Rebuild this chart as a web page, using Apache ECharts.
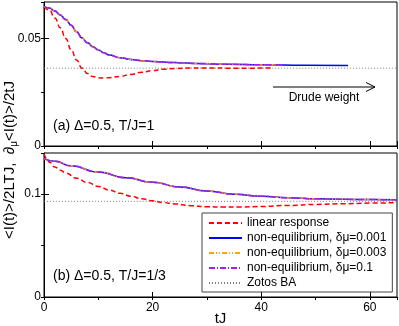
<!DOCTYPE html>
<html>
<head>
<meta charset="utf-8">
<script src="https://cdn.jsdelivr.net/npm/echarts@6/dist/echarts.min.js"></script>
<style>
html, body { margin: 0; padding: 0; background: #fff; }
#chart { width: 399px; height: 326px; }
</style>
</head>
<body>
<div id="chart"></div>
<script>
// panel (a): Delta=0.5, T/J=1
const tA_lin = [0, 1, 2, 3, 4, 5, 6, 7, 8, 9, 10, 11, 12, 14, 16, 18, 20, 22, 24, 27, 30, 35, 42];
const yA_lin = [0.0648, 0.0632, 0.0595, 0.0550, 0.0500, 0.0448, 0.0400, 0.0362, 0.0337, 0.0323, 0.0317, 0.0316,
                0.0318, 0.0324, 0.0333, 0.0343, 0.0351, 0.0357, 0.0361, 0.0363, 0.0363, 0.0362, 0.0363];
const tA_neq = [0, 1, 2, 3, 4, 5, 6, 7, 8, 9, 10, 11, 12, 14, 16, 18, 20, 24, 28, 34, 40, 48, 56];
const yA_001 = [0.0648, 0.0642, 0.0628, 0.0610, 0.0588, 0.0562, 0.0531, 0.0503, 0.0480, 0.0462, 0.0447, 0.0434,
                0.0423, 0.0411, 0.0403, 0.0397, 0.0393, 0.0388, 0.0384, 0.0380, 0.0378, 0.0376, 0.0375];
const tA_short = [0, 1, 2, 3, 4, 5, 6, 7, 8, 9, 10, 11, 12, 14, 16, 18, 20, 24, 28, 34, 40, 44];
const yA_003 = [0.0648, 0.0642, 0.0628, 0.0610, 0.0588, 0.0562, 0.0531, 0.0503, 0.0480, 0.0462, 0.0447, 0.0434,
                0.0423, 0.0411, 0.0403, 0.0397, 0.0393, 0.0388, 0.0384, 0.0380, 0.0378, 0.0377];
const yA_01 = [0.0648, 0.0642, 0.0628, 0.0610, 0.0588, 0.0562, 0.0531, 0.0503, 0.0480, 0.0462, 0.0447, 0.0434,
               0.0423, 0.0411, 0.0403, 0.0397, 0.0393, 0.0388, 0.0384, 0.0380, 0.0378, 0.0377];
const zotosA = 0.0362;

// panel (b): Delta=0.5, T/J=1/3
const tB_lin = [0, 0.5, 1, 2, 3, 4, 6, 8, 10, 12, 14, 16, 18, 20, 22, 24, 27, 30, 33, 36, 40, 45, 50, 55, 60, 65];
const yB_lin = [0.1395, 0.1345, 0.1310, 0.1265, 0.1233, 0.1205, 0.1155, 0.1113, 0.1075, 0.1040, 0.1008, 0.0980,
                0.0955, 0.0935, 0.0918, 0.0905, 0.0888, 0.0878, 0.0874, 0.0875, 0.0880, 0.0890, 0.0900, 0.0907,
                0.0913, 0.0918];
const tB_neq = [0, 2, 5, 10, 15, 20, 25, 30, 35, 40, 45, 50, 55, 60, 65];
const yB_001 = [0.1345, 0.1320, 0.1275, 0.1215, 0.1160, 0.1115, 0.1070, 0.1030, 0.1000, 0.0980, 0.0965, 0.0955,
                0.0950, 0.0947, 0.0945];
const yB_003 = [0.1345, 0.1320, 0.1275, 0.1215, 0.1160, 0.1115, 0.1070, 0.1030, 0.1000, 0.0980, 0.0965, 0.0955,
                0.0950, 0.0947, 0.0945];
const yB_01 = [0.1345, 0.1320, 0.1275, 0.1215, 0.1160, 0.1115, 0.1070, 0.1030, 0.1000, 0.0980, 0.0965, 0.0955,
               0.0950, 0.0947, 0.0945];
const zotosB = 0.093;

const tRange = [0, 65];
const names = ['linear response', 'non-equilibrium, δμ=0.001', 'non-equilibrium, δμ=0.003',
               'non-equilibrium, δμ=0.1', 'Zotos BA'];

const FONT = 'Liberation Sans, Arial, Helvetica, sans-serif';

function pairs(ts, ys) {
  return ts.map((t, i) => [t, ys[i]]);
}

const styles = {
  lin: { color: '#ff0000', width: 1.5, type: [5, 3] },
  n001: { color: '#0000ff', width: 1.5, type: 'solid' },
  n003: { color: '#ffa500', width: 1.5, type: [5, 2, 1, 2, 1, 2] },
  n01: { color: '#a020f0', width: 1.5, type: [6, 2, 1, 2] },
  zotos: { color: '#808080', width: 1, type: [1, 2] }
};

function line(name, data, st, idx) {
  return {
    name: name,
    type: 'line',
    xAxisIndex: idx,
    yAxisIndex: idx,
    data: data,
    symbol: 'none',
    smooth: true,
    smoothMonotone: 'x',
    color: st.color,
    lineStyle: st,
    animation: false
  };
}

function xAxes(grid, labels) {
  return [
    {
      type: 'value', gridIndex: grid, min: tRange[0], max: tRange[1], interval: 20,
      axisLine: { lineStyle: { color: '#000' } },
      axisTick: { inside: true, length: 5, lineStyle: { color: '#000' } },
      axisLabel: { show: labels, showMaxLabel: false, fontSize: 12, color: '#000', fontFamily: FONT, margin: 5 },
      splitLine: { show: false },
      name: labels ? 'tJ' : '',
      nameLocation: 'middle',
      nameGap: 22,
      nameMoveOverlap: false,
      nameTextStyle: { fontSize: 15, color: '#000', fontFamily: FONT, verticalAlign: 'middle' }
    },
    {
      type: 'value', gridIndex: grid, min: tRange[0], max: tRange[1], interval: 10,
      axisLine: { show: false },
      axisTick: { inside: true, length: 3, lineStyle: { color: '#000' } },
      axisLabel: { show: false },
      splitLine: { show: false }
    }
  ];
}

function yAxes(grid, max, major) {
  return [
    {
      type: 'value', gridIndex: grid, min: 0, max: max, interval: major,
      axisLine: { show: true, lineStyle: { color: '#000' } },
      axisTick: { show: true, inside: true, length: 5, lineStyle: { color: '#000' } },
      axisLabel: { showMaxLabel: false, fontSize: 12, color: '#000', fontFamily: FONT, margin: 3 },
      splitLine: { show: false }
    },
    {
      type: 'value', gridIndex: grid, min: 0, max: max, interval: major / 2,
      axisLine: { show: false },
      axisTick: { show: true, inside: true, length: 3, lineStyle: { color: '#000' } },
      axisLabel: { show: false },
      splitLine: { show: false }
    }
  ];
}

const chart = echarts.init(document.getElementById('chart'), null, { renderer: 'canvas' });

const option = {
  animation: false,
  textStyle: { fontFamily: FONT },
  grid: [
    { left: 44, right: 2, top: 2, height: 144, show: true, borderColor: '#000', borderWidth: 1, outerBoundsMode: 'none' },
    { left: 44, right: 2, top: 153, height: 144, show: true, borderColor: '#000', borderWidth: 1, outerBoundsMode: 'none' }
  ],
  // major axis first, then minor-tick axis, per panel
  xAxis: [].concat(xAxes(0, false), xAxes(1, true)),
  yAxis: [].concat(yAxes(0, 0.067, 0.05), yAxes(1, 0.14, 0.1)),
  legend: {
    data: names,
    orient: 'vertical',
    left: 202,
    top: 213,
    padding: [4, 6, 3, 6],
    itemGap: 3,
    itemWidth: 33,
    itemHeight: 12,
    borderColor: '#444',
    borderWidth: 1,
    backgroundColor: '#fff',
    selectedMode: false,
    itemStyle: { opacity: 0 },
    textStyle: { fontSize: 12, color: '#000', fontFamily: FONT }
  },
  series: [
    line(names[4], pairs(tRange, [zotosA, zotosA]), styles.zotos, 0),
    line(names[0], pairs(tA_lin, yA_lin), styles.lin, 0),
    line(names[1], pairs(tA_neq, yA_001), styles.n001, 0),
    line(names[2], pairs(tA_short, yA_003), styles.n003, 0),
    line(names[3], pairs(tA_short, yA_01), styles.n01, 0),

    line(names[4], pairs(tRange, [zotosB, zotosB]), styles.zotos, 2),
    line(names[0], pairs(tB_lin, yB_lin), styles.lin, 2),
    line(names[1], pairs(tB_neq, yB_001), styles.n001, 2),
    line(names[2], pairs(tB_neq, yB_003), styles.n003, 2),
    line(names[3], pairs(tB_neq, yB_01), styles.n01, 2)
  ],
  graphic: [
    {
      type: 'text', x: 10, y: 160, rotation: Math.PI / 2,
      style: {
        text: '<I(t)>/2LTJ,  ∂{s|μ}<I(t)>/2tJ',
        font: '15px ' + FONT,
        fill: '#000',
        align: 'center',
        verticalAlign: 'middle',
        rich: { s: { fontSize: 10, fontFamily: FONT, padding: [8, 0, 0, 0] } }
      }
    },
    {
      type: 'text', x: 53, y: 126,
      style: { text: '(a) Δ=0.5, T/J=1', font: '14px ' + FONT, fill: '#000', verticalAlign: 'middle' }
    },
    {
      type: 'text', x: 53, y: 276,
      style: { text: '(b) Δ=0.5, T/J=1/3', font: '14px ' + FONT, fill: '#000', verticalAlign: 'middle' }
    },
    {
      type: 'text', x: 324, y: 98,
      style: { text: 'Drude weight', font: '12px ' + FONT, fill: '#000', align: 'center', verticalAlign: 'middle' }
    },
    {
      type: 'line', shape: { x1: 273, y1: 87, x2: 375, y2: 87 },
      style: { stroke: '#000', lineWidth: 1 }
    },
    {
      type: 'polyline', shape: { points: [[366, 82.5], [375, 87], [366, 91.5]] },
      style: { stroke: '#000', lineWidth: 1, fill: null }
    }
  ]
};

chart.setOption(option);
</script>
</body>
</html>
